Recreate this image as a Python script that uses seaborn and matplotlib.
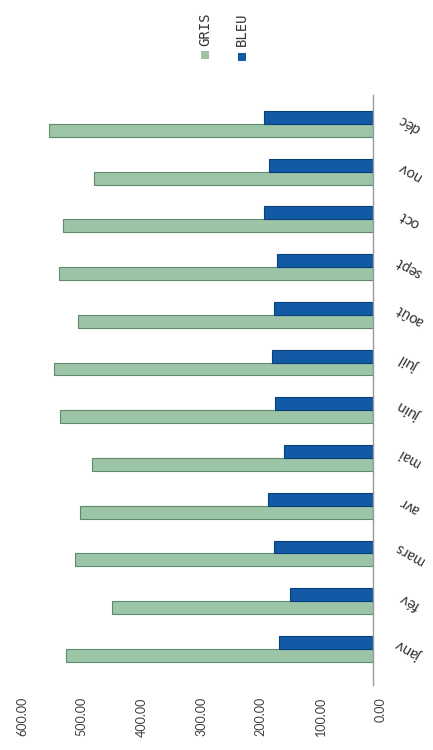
"""Monthly GRIS / BLEU totals, drawn as a rotated bar chart like the scan."""

import pandas as pd
import seaborn as sns
import matplotlib.pyplot as plt
import matplotlib.transforms as mtransforms
from matplotlib.patches import Rectangle

# --- Data -------------------------------------------------------------------
months = ["janv", "fév", "mars", "avr", "mai", "juin",
          "juil", "août", "sept", "oct", "nov", "déc"]
gris = [515, 437, 499, 491, 472, 525, 535, 494, 526, 519, 468, 543]
bleu = [158, 140, 166, 176, 149, 164, 169, 166, 161, 183, 174, 183]
value_ticks = [0, 100, 200, 300, 400, 500, 600]
series = ["GRIS", "BLEU"]

GREEN = "#9cc4a6"
BLUE = "#125aa6"


def build_frame() -> pd.DataFrame:
    df = pd.DataFrame({"mois": months, "GRIS": gris, "BLEU": bleu})
    return df.melt(id_vars="mois", var_name="serie", value_name="valeur")


def plot(df: pd.DataFrame, out: str) -> None:
    sns.set_style("white")
    plt.rcParams["font.family"] = ["Lato", "DejaVu Sans"]

    fig = plt.figure(figsize=(4.33, 7.5), dpi=100)
    ax = fig.add_axes([0.035, 0.087, 0.827, 0.786])

    sns.barplot(
        data=df, x="valeur", y="mois", hue="serie", order=months,
        hue_order=series, palette=[GREEN, BLUE], orient="h",
        width=0.54, saturation=1, legend=False, ax=ax, errorbar=None,
    )
    # dark edge on each bar, a nod to the 3D look of the original
    for patch, edge in zip(ax.patches, ["#5f8a6c"] * 12 + ["#0a3f7e"] * 12):
        patch.set_edgecolor(edge)
        patch.set_linewidth(0.8)

    ax.set_xlim(600, 0)
    ax.set_ylim(-0.75, 11.6)

    ax.set_xticks(value_ticks)
    ax.set_xticklabels([f"{v:.2f}" for v in value_ticks], rotation=90,
                       fontsize=9, color="#404040")
    ax.tick_params(axis="x", length=0, pad=9)
    shift = mtransforms.ScaledTranslation(7 / 100, 0, fig.dpi_scale_trans)
    for lab in ax.get_xticklabels():
        lab.set_transform(lab.get_transform() + shift)

    ax.yaxis.tick_right()
    ax.tick_params(axis="y", length=0, pad=26)
    for lab in ax.get_yticklabels():
        lab.set_rotation(150)
        lab.set_rotation_mode("anchor")
        lab.set_ha("center")
        lab.set_va("center")
        lab.set_fontsize(10.5)
        lab.set_color("#333333")

    ax.set_xlabel("")
    ax.set_ylabel("")
    for side in ["left", "top", "bottom"]:
        ax.spines[side].set_visible(False)
    ax.spines["right"].set_color("#9a9a9a")
    ax.spines["right"].set_linewidth(1.0)

    # rotated legend at the top
    for name, color, xc, yc in [("GRIS", GREEN, 205, 55), ("BLEU", BLUE, 242, 57)]:
        fig.patches.append(Rectangle(
            ((xc - 4) / 433, 1 - (yc + 4) / 750), 8 / 433, 8 / 750,
            transform=fig.transFigure, facecolor=color, edgecolor="none"))
        fig.text(xc / 433, 1 - 46 / 750, name, rotation=90, ha="center",
                 va="bottom", fontsize=10, color="#333333",
                 family="DejaVu Sans Mono")

    fig.savefig(out, dpi=100)


def main() -> None:
    plot(build_frame(), "out.png")


if __name__ == "__main__":
    main()
